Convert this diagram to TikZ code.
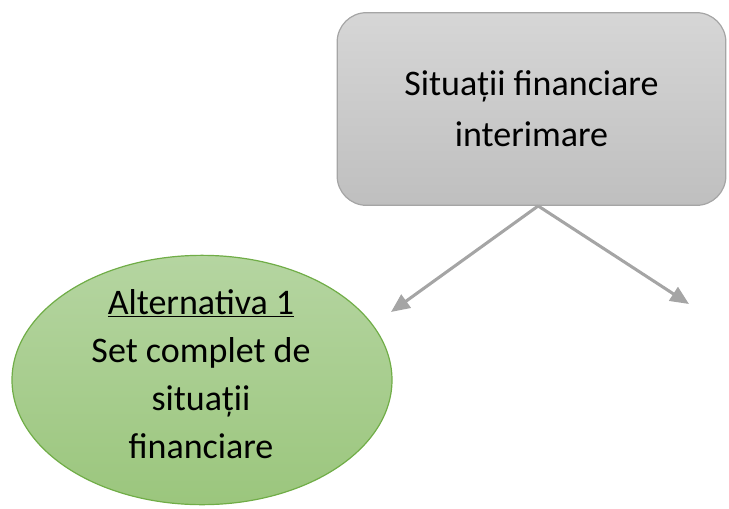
\documentclass[tikz,border=0pt]{standalone}
\usepackage{fontspec}
\setmainfont{Carlito}
\usetikzlibrary{shapes.geometric,arrows.meta}
\definecolor{boxline}{HTML}{A5A5A5}
\definecolor{boxtop}{HTML}{D6D6D6}
\definecolor{boxbottom}{HTML}{BFBFBF}
\definecolor{ovalline}{HTML}{70AD47}
\definecolor{ovaltop}{HTML}{B5D5A1}
\definecolor{ovalbottom}{HTML}{9BC67D}
\definecolor{arrowgray}{HTML}{A5A5A5}
\tikzstyle{box}=[rectangle, rounded corners=22pt, draw=boxline, line width=0.9pt, top color=boxtop, bottom color=boxbottom, minimum width=291.5pt, minimum height=144.5pt, align=center, font=\fontsize{27}{38}\selectfont]
\tikzstyle{oval}=[ellipse, draw=ovalline, line width=0.9pt, top color=ovaltop, bottom color=ovalbottom, minimum width=285pt, minimum height=187pt, inner sep=0pt]
\tikzstyle{ovaltext}=[align=center, font=\fontsize{27}{36}\selectfont]

\begin{document}
\begin{tikzpicture}[x=0.75pt, y=-0.75pt]
      \useasboundingbox (0,0) rectangle (729,508);
      \node[box](interim) at (531.5, 109) {Situații financiare\\interimare};
      \node[oval](alt) at (202, 380) {};
      \node[ovaltext](altlabel) at (201, 374) {\underline{Alternativa 1}\\Set complet de\\situații\\financiare};
      \coordinate (fork) at ([xshift=5pt]interim.south);
      \coordinate (leftend) at (391, 312);
      \coordinate (rightend) at (689, 304);
      \begin{scope}[every path/.style={line width=2.3pt, draw=arrowgray, -{Triangle[length=14pt, width=12pt]}}]
        \draw (fork) -- (leftend);
        \draw (fork) -- (rightend);
      \end{scope}
    \end{tikzpicture}
\end{document}
